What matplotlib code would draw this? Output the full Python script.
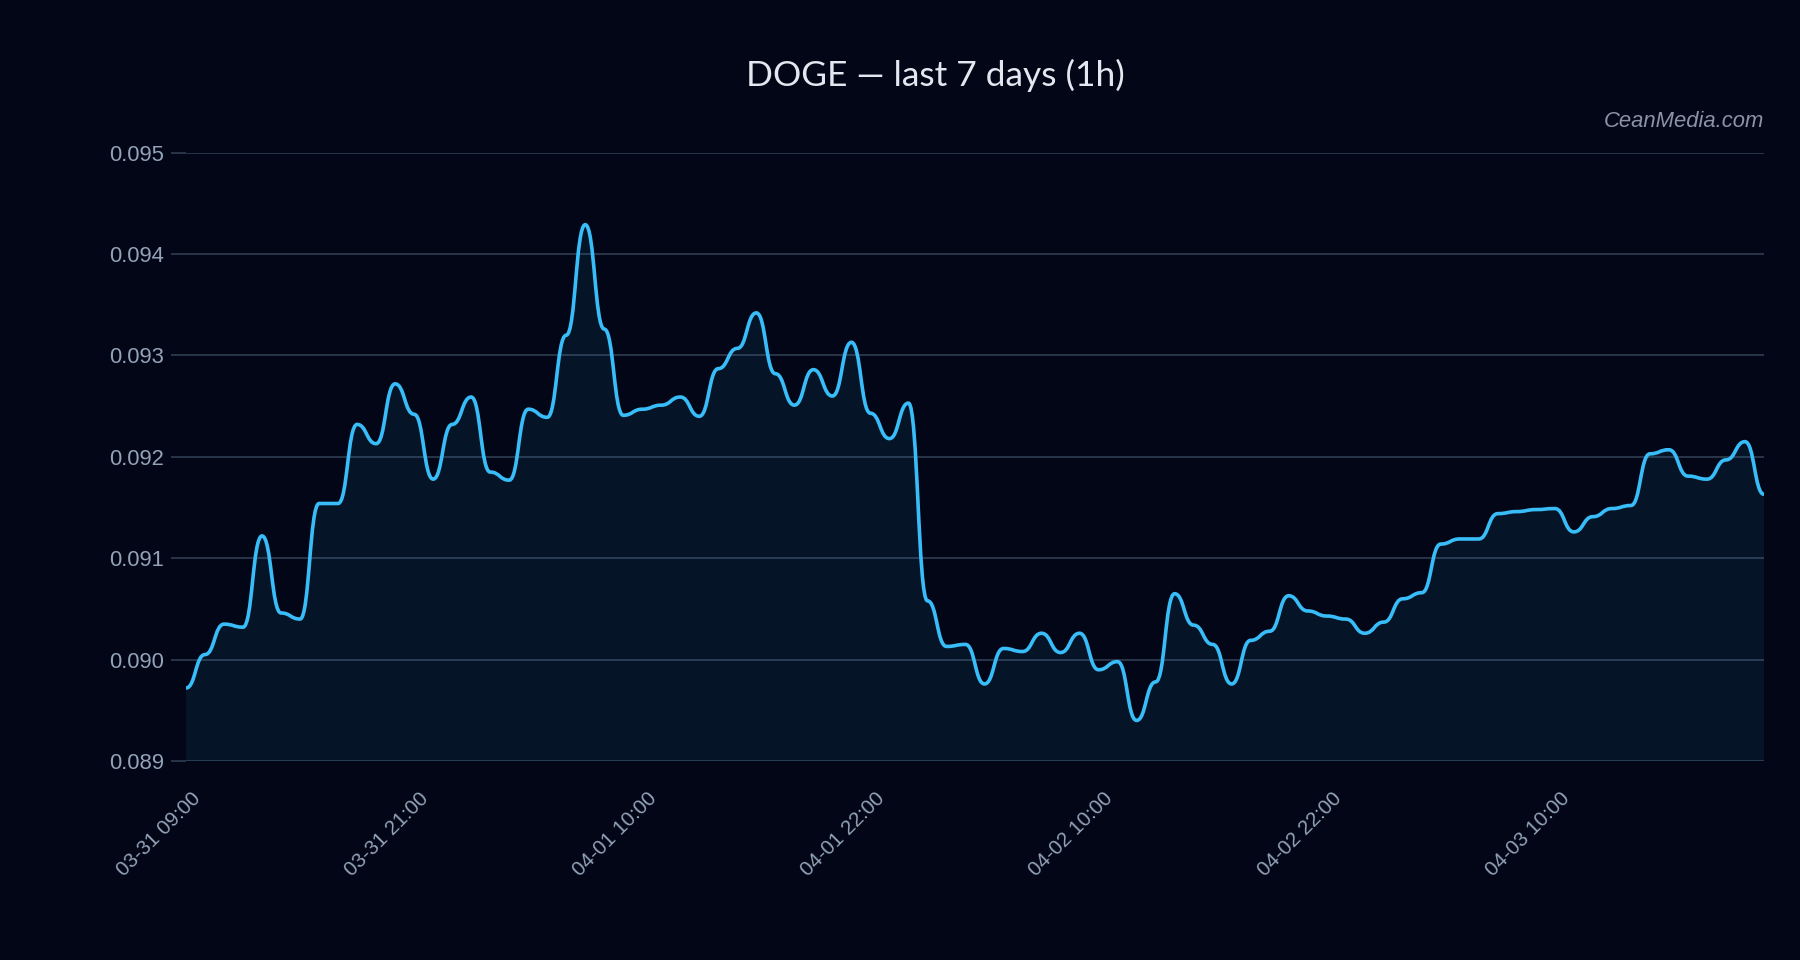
import numpy as np
import matplotlib
matplotlib.use("Agg")
import matplotlib.pyplot as plt
from matplotlib.path import Path
from matplotlib.patches import PathPatch
from matplotlib.transforms import ScaledTranslation

# hourly closes (index axis, one candle per step)
hours = list(range(84))
prices = [
    0.08972, 0.09005, 0.09035, 0.09032, 0.09122, 0.09046, 0.09040, 0.09154, 0.09154, 0.09232,
    0.09213, 0.09272, 0.09242, 0.09178, 0.09232, 0.09259, 0.09185, 0.09177, 0.09247, 0.09239,
    0.09320, 0.09429, 0.09326, 0.09241, 0.09247, 0.09251, 0.09259, 0.09240, 0.09287,
    0.09307, 0.09342, 0.09282, 0.09251, 0.09286, 0.09260, 0.09313, 0.09243, 0.09218, 0.09253,
    0.09058, 0.09013, 0.09015, 0.08976, 0.09011, 0.09008, 0.09026, 0.09007, 0.09026, 0.08990,
    0.08998, 0.08940, 0.08978, 0.09065, 0.09034, 0.09015, 0.08976, 0.09019, 0.09028, 0.09063,
    0.09048, 0.09043, 0.09040, 0.09026, 0.09037, 0.09060, 0.09066, 0.09114, 0.09119, 0.09119,
    0.09144, 0.09146, 0.09148, 0.09149, 0.09126, 0.09141, 0.09149, 0.09152, 0.09203, 0.09207,
    0.09181, 0.09178, 0.09197, 0.09215, 0.09163,
]
tick_hours = [0, 12, 24, 36, 48, 60, 72]
tick_labels = ["03-31 09:00", "03-31 21:00", "04-01 10:00", "04-01 22:00",
               "04-02 10:00", "04-02 22:00", "04-03 10:00"]
y_ticks = [0.089, 0.090, 0.091, 0.092, 0.093, 0.094, 0.095]

BG = "#020617"
LINE = "#38bdf8"
GRID = "#334155"
TICK = "#94a3b8"


def bump_path(x, y):
    # smooth "bump" curve: flat tangent at every point, bezier handles at mid-x
    verts = [(x[0], y[0])]
    codes = [Path.MOVETO]
    for i in range(len(x) - 1):
        xm = (x[i] + x[i + 1]) / 2
        verts += [(xm, y[i]), (xm, y[i + 1]), (x[i + 1], y[i + 1])]
        codes += [Path.CURVE4] * 3
    return verts, codes


fig = plt.figure(figsize=(18, 9.6), dpi=100, facecolor=BG)
ax = fig.add_axes([186 / 1800, 1 - 761 / 960, 1578 / 1800, 608.3 / 960])
ax.set_facecolor(BG)
ax.set_xlim(hours[0], hours[-1])
ax.set_ylim(y_ticks[0], y_ticks[-1])

verts, codes = bump_path(hours, prices)
base = ax.get_ylim()[0]
fill_path = Path(verts + [(hours[-1], base), (hours[0], base), (hours[0], base)],
                 codes + [Path.LINETO, Path.LINETO, Path.CLOSEPOLY])
ax.add_patch(PathPatch(fill_path, facecolor=LINE, alpha=0.08, edgecolor="none", zorder=2))
ax.add_patch(PathPatch(Path(verts, codes), facecolor="none", edgecolor=LINE, lw=2.6,
                       joinstyle="round", capstyle="butt", zorder=3))

ax.set_yticks(y_ticks)
ax.set_yticklabels([f"{v:.3f}" for v in y_ticks])
ax.yaxis.grid(True, color=GRID, lw=1.1)
ax.set_axisbelow(True)
for sp in ax.spines.values():
    sp.set_visible(False)

ax.tick_params(axis="y", length=11, width=1.1, color=GRID, pad=5,
               labelsize=15.8, labelcolor=TICK)
ax.tick_params(axis="x", length=0, pad=20, labelsize=14.8, labelcolor=TICK)
for lab in ax.get_yticklabels():
    lab.set_family(["Liberation Sans", "DejaVu Sans"])

ax.set_xticks(tick_hours)
ax.set_xticklabels(tick_labels, rotation=45, ha="right", va="top", rotation_mode="anchor",
                   family=["Liberation Sans", "DejaVu Sans"])
shift = ScaledTranslation(5 / 100, 0, fig.dpi_scale_trans)
for lab in ax.get_xticklabels():
    lab.set_transform(lab.get_transform() + shift)

fig.text(935 / 1800, 1 - 75 / 960, "DOGE — last 7 days (1h)", ha="center", va="center",
         fontsize=25.5, color="#e2e8f0", family=["Lato", "Liberation Sans", "DejaVu Sans"])
fig.text(1764 / 1800, 1 - 127 / 960, "CeanMedia.com", ha="right", va="baseline",
         fontsize=15.8, style="italic", color="#8b93a6", family=["Liberation Sans", "DejaVu Sans"])

fig.savefig("out.png", dpi=100, facecolor=BG)
